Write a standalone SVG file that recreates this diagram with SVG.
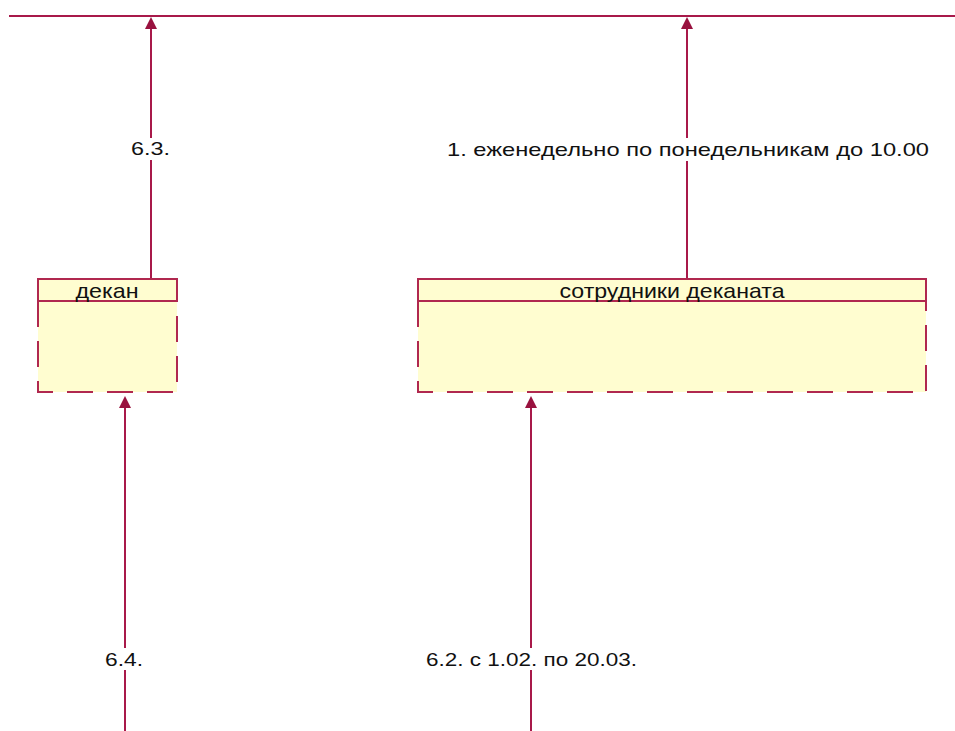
<svg xmlns="http://www.w3.org/2000/svg" width="955" height="731" viewBox="0 0 955 731">
<defs>
<style>
.ln{stroke:#a8194a;stroke-width:2;fill:none}
.ah{fill:#99123f}
.box{fill:#fffdd0}
.bd{stroke:#b0284f;stroke-width:2;fill:none}
.dash{stroke:#b0284f;stroke-width:2;fill:none;stroke-dasharray:26 14}
.hdr{font-family:"Liberation Sans",Arial,sans-serif;font-size:21px;fill:#111;text-anchor:middle}
.lbl{font-family:"Liberation Sans",Arial,sans-serif;font-size:18.5px;fill:#111;text-anchor:middle}
.bg{fill:#ffffff}
</style>
</defs>
<rect width="955" height="731" fill="#ffffff"/>
<g id="connectors">
<line class="ln" x1="9" y1="16" x2="955" y2="16"/>
<line class="ln" x1="151" y1="279" x2="151" y2="26"/>
<polygon class="ah" points="151,17 157,29 145,29"/>
<line class="ln" x1="687" y1="279" x2="687" y2="26"/>
<polygon class="ah" points="687,17 693,29 681,29"/>
<line class="ln" x1="125" y1="731" x2="125" y2="405"/>
<polygon class="ah" points="125,396 131,408 119,408"/>
<line class="ln" x1="531" y1="731" x2="531" y2="405"/>
<polygon class="ah" points="531,396 537,408 525,408"/>
<rect class="bg" x="128" y="138" width="46" height="22"/>
<text class="lbl" x="150.5" y="155" textLength="39" lengthAdjust="spacingAndGlyphs">6.3.</text>
<rect class="bg" x="444" y="138" width="488" height="23"/>
<text class="lbl" x="688" y="156" textLength="482" lengthAdjust="spacingAndGlyphs">1. еженедельно по понедельникам до 10.00</text>
<rect class="bg" x="102" y="648" width="46" height="22"/>
<text class="lbl" x="124" y="666" textLength="38" lengthAdjust="spacingAndGlyphs">6.4.</text>
<rect class="bg" x="423" y="648" width="218" height="22"/>
<text class="lbl" x="531.5" y="666" textLength="211" lengthAdjust="spacingAndGlyphs">6.2. с 1.02. по 20.03.</text>
</g>
<g id="node-dekan">
<rect class="box" x="38" y="279" width="139" height="113"/>
<rect class="bd" x="38" y="279" width="139" height="22"/>
<path class="dash" d="M38,301 L38,392 L177,392 L177,301"/>
<text class="hdr" x="107" y="298" textLength="63" lengthAdjust="spacingAndGlyphs">декан</text>
</g>
<g id="node-sotrudniki">
<rect class="box" x="418" y="279" width="508" height="113"/>
<rect class="bd" x="418" y="279" width="508" height="22"/>
<path class="dash" d="M418,301 L418,392 L926,392 L926,301"/>
<text class="hdr" x="672" y="298" textLength="225" lengthAdjust="spacingAndGlyphs">сотрудники деканата</text>
</g>
</svg>
